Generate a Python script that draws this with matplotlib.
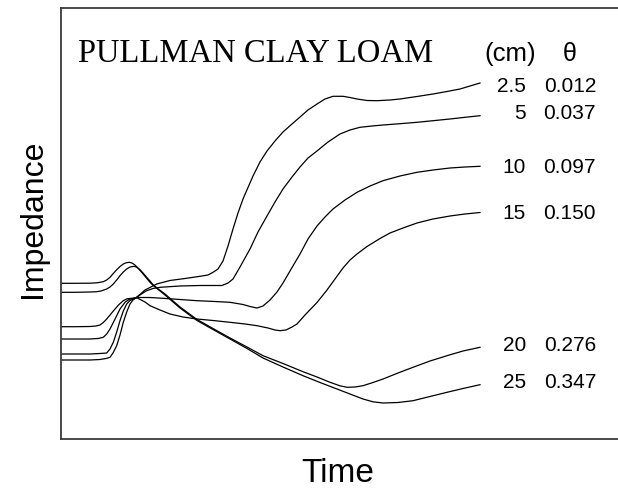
import matplotlib
matplotlib.use("Agg")
import matplotlib.pyplot as plt

# Impedance traces after wetting, Pullman clay loam (arbitrary units)
depths = ["2.5", "5", "10", "15", "20", "25"]
thetas = ["0.012", "0.037", "0.097", "0.150", "0.276", "0.347"]

t_25mm = [0, 14, 29, 39, 45, 49, 52, 55.7, 59, 62.3, 65.7, 69, 72, 75.7, 84, 95.7, 109, 124, 139, 147,
          152, 157, 162, 167, 172, 177, 182, 192, 199, 206, 214, 222, 231, 239, 247, 256, 264, 272, 282, 289,
          296, 306, 316, 329, 339, 356, 372, 386, 399, 409, 419]
z_25mm = [79, 79, 79, 79.5, 80.5, 81.7, 86, 93.3, 104, 116.7, 127, 135, 139, 141.7, 149, 155, 158.5, 160.5, 162.7, 164,
          166.7, 170, 178, 193, 210, 226, 240, 263, 277, 288, 298, 307, 315, 322, 329, 335, 340, 342.7, 342.7, 341.5,
          340, 338.5, 338.3, 339, 340, 342.5, 345, 347.5, 350, 353, 356]

t_5cm = [0, 14, 29, 39, 45.7, 49, 52.3, 55.7, 59, 62.3, 65.7, 69, 74, 79, 85, 92, 99, 119, 139, 154,
         161, 167, 172, 179, 189, 197, 206, 214, 222, 231, 239, 247, 256, 267, 279, 289, 299, 311, 322, 339,
         356, 372, 389, 404, 419]
z_5cm = [85, 85, 85, 85.5, 86, 90, 96.7, 107, 118.3, 128, 135, 138.5, 140.7, 144, 148, 150.5, 151.7, 153, 153.5, 153.5,
         153.5, 156, 160, 172, 190, 207, 223, 237, 250, 262, 272, 281, 288, 297, 305, 309, 311.7, 313, 314, 315.3,
         316.7, 318.3, 320, 321.7, 323.3]

t_10cm = [0, 14, 29, 37, 42.3, 45.7, 49, 52.3, 55.7, 59, 64, 68, 72.3, 76, 89, 102, 119, 136, 154, 169,
          182, 189, 196, 202, 209, 216, 222, 229, 239, 247, 256, 264, 272, 284, 296, 309, 322, 339, 356, 372,
          389, 404, 419]
z_10cm = [100, 100, 100, 100.5, 101.7, 105, 110, 116.5, 123.3, 130, 136.7, 139.5, 140.7, 141.5, 141.5, 140.7, 139.5,
          138.3, 137.5, 136.7, 134.5, 132.5, 131, 133, 139, 147, 156, 168, 185, 200, 213, 222, 230, 239, 246.7, 253,
          258.3, 263, 266.7, 269, 271, 272, 272.7]

t_15cm = [0, 14, 29, 35, 39, 42.3, 45.7, 49, 54, 58, 62.3, 66, 70.7, 76, 84, 89, 99, 109, 122, 136,
          152, 169, 184, 196, 207, 214, 219, 225, 231, 236, 244, 256, 266, 274, 282, 289, 296, 306, 319, 329,
          342, 356, 372, 389, 404, 419]
z_15cm = [112.3, 112.3, 112.5, 113, 114, 116.5, 120, 124, 130, 134.5, 138.3, 140.2, 140.7, 141.2, 137, 133.3, 129,
          125, 122, 120, 118.5, 116.7, 115, 113.3, 111, 109, 108.3, 109, 112, 115, 124, 136.5, 149, 160, 171, 179,
          185, 192.5, 200.5, 206, 211, 216, 220, 223, 225, 226.5]

t_20cm = [0, 14, 29, 35.7, 40, 45.7, 49, 52.3, 55.7, 59, 62.3, 65.7, 69, 73, 76, 79, 82, 85.7, 89, 92.3,
          96, 104, 119, 136, 152, 169, 186, 202, 222, 242, 256, 269, 279, 286, 294, 302, 312, 322, 337, 352,
          369, 386, 402, 419]
z_20cm = [146.7, 146.7, 147, 147.3, 148, 150, 152, 155, 159, 163.3, 167, 170, 172, 172.7, 171.7, 169.3, 166, 161.7,
          158, 154, 151, 145, 132, 119.5, 110.5, 101, 92, 83.3, 75.5, 67.3, 62, 56.7, 53.2, 51.7, 52, 53.3, 56.5, 60,
          66, 71.7, 78, 83.3, 88, 91.7]

t_25cm = [0, 14, 29, 36, 42.3, 45.7, 49, 52.3, 55.7, 59, 62.3, 65.3, 68.3, 71, 74, 77.3, 80.7, 85, 89, 92.3,
          96, 104, 119, 136, 152, 169, 186, 202, 222, 242, 259, 276, 289, 302, 312, 322, 337, 352, 369, 386,
          402, 419]
z_25cm = [155.7, 155.7, 155.8, 156.2, 157.3, 159, 161.7, 165.5, 169.3, 172.5, 175, 176.3, 176.7, 176, 174, 170.5,
          166.7, 161.5, 156.7, 153.5, 150.5, 144, 131, 118.5, 109.5, 100, 90.5, 81, 72, 63.3, 56.5, 50, 45, 40, 37.2,
          36, 36.5, 38.3, 42.5, 46.7, 50.5, 54.3]

series_t = [t_25mm, t_5cm, t_10cm, t_15cm, t_20cm, t_25cm]
series_z = [z_25mm, z_5cm, z_10cm, z_15cm, z_20cm, z_25cm]

W, H, DPI = 618, 489, 100
fig = plt.figure(figsize=(W / DPI, H / DPI), dpi=DPI)
ax = fig.add_axes([61 / W, (H - 440) / H, (622 - 61) / W, (440 - 9) / H])
ax.set_xlim(0, 561)
ax.set_ylim(0, 431)
ax.set_xticks([])
ax.set_yticks([])
for side in ("left", "top", "bottom", "right"):
    ax.spines[side].set_linewidth(1.3)
    ax.spines[side].set_color("#3a3a3a")

for t, z in zip(series_t, series_z):
    ax.plot(t, z, color="black", lw=0.9, solid_joinstyle="round", antialiased=True)

sans = "Liberation Sans"
serif = "Liberation Serif"

# small vertical nudges so each row of labels sits beside its trace end
nudge = [-2.5, 3.0, 0.0, 0.0, 3.0, 3.0]
for t, z, d, th, dz in zip(series_t, series_z, depths, thetas, nudge):
    ax.text(465, z[-1] + dz, d, ha="right", va="center", fontsize=15, family=sans)
    ax.text(535, z[-1] + dz, th, ha="right", va="center", fontsize=15, family=sans)

ax.text(17, 386, "PULLMAN CLAY LOAM", ha="left", va="center", fontsize=23.5, family=serif)
ax.text(449.5, 386, "(cm)", ha="center", va="center", fontsize=18.5, family=sans)
ax.text(508.5, 386, "θ", ha="center", va="center", fontsize=18, family=sans)

fig.text(33 / W, 1 - 219 / H, "Impedance", rotation=90, ha="center", va="center",
         fontsize=23, family=sans)
fig.text(337.5 / W, 1 - 474 / H, "Time", ha="center", va="center", fontsize=24, family=sans)

fig.savefig("out.png", dpi=DPI)
